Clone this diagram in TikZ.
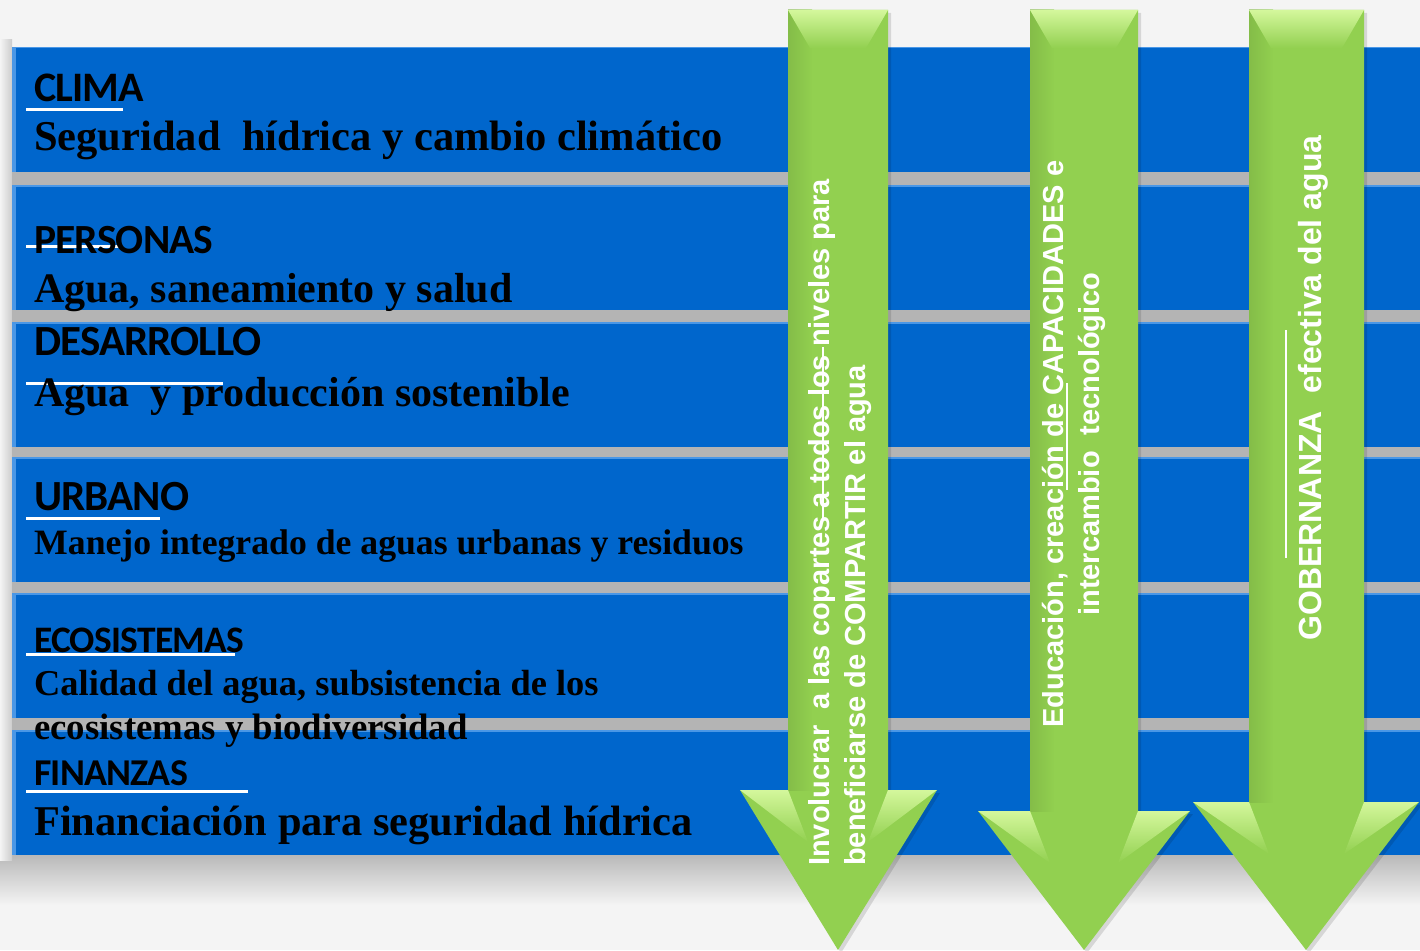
\documentclass[tikz,border=0pt]{standalone}
\usepackage{fontspec}
\setmainfont{Liberation Serif}
\newfontfamily\titrefont{Carlito}[LetterSpace=-2]
\newfontfamily\flechefont{Liberation Sans}
\definecolor{bleu}{HTML}{0066CC}
\definecolor{bleuclair}{HTML}{4A97E6}
\definecolor{vert}{HTML}{92D050}
\definecolor{vertclair}{HTML}{D4F79C}
\definecolor{grisbande}{HTML}{B4B4B4}
\definecolor{fond}{HTML}{F4F4F4}
\usetikzlibrary{positioning}
\begin{document}
\begin{tikzpicture}[x=1pt,y=-1pt,
    bande/.style={fill=bleu},
    titre/.style={anchor=base west,inner sep=0pt,font=\titrefont\bfseries\fontsize{#1}{#1}\selectfont},
    soustitre/.style={anchor=base west,inner sep=0pt,font=\bfseries\fontsize{#1}{#1}\selectfont},
    souligne/.style={white,line width=3pt},
    trait/.style={white,line width=1.5pt},
    texteflech/.style={rotate=90,text=white,inner sep=0pt,font=\flechefont\bfseries\fontsize{#1}{36.5}\selectfont}]
    % Fond et cadre de l'image
    \fill[fond] (0,0) rectangle (1420,950);
    \useasboundingbox (0,0) rectangle (1420,950);

    % Ombres autour des bandes
    \shade[top color=gray!55,bottom color=fond] (0,855) rectangle (1420,905);
    \shade[left color=fond,right color=gray!40] (0,40) rectangle (12,860);
    \fill[grisbande] (12,47) rectangle (1420,855);

    % Les six bandes bleues
    \foreach \h in {47,185,322,457,593,730} {
        \fill[bleu] (12,\h) rectangle (1420,\h+125);
        \fill[bleuclair] (12,\h) rectangle (16,\h+125);
        \fill[bleuclair] (12,\h) rectangle (1420,\h+1.5);
    }

    % Soulignements des titres
    \draw[souligne] (26,109) -- (123,109);
    \draw[souligne] (26,246) -- (120,246);
    \draw[souligne] (26,383) -- (223,383);
    \draw[souligne] (26,518) -- (160,518);
    \draw[souligne] (26,654) -- (235,654);
    \draw[souligne] (26,791) -- (248,791);

    % Titres et sous-titres
    \node[titre=42] (clima) at (34,101) {CLIMA};
    \node[soustitre=42.5] (clima2) at (34,150) {Seguridad\ \ hídrica y cambio climático};
    \node[titre=41.5] (personas) at (34,253) {PERSONAS};
    \node[soustitre=42] (personas2) at (34,302) {Agua, saneamiento y salud};
    \node[titre=43] (desarrollo) at (34,355) {DESARROLLO};
    \node[soustitre=42] (desarrollo2) at (34,406) {Agua\ \ y producción sostenible};
    \node[titre=43] (urbano) at (34,510) {URBANO};
    \node[soustitre=35.7] (urbano2) at (34,554) {Manejo integrado de aguas urbanas y residuos};
    \node[titre=37.4] (eco) at (34,652) {ECOSISTEMAS};
    \node[soustitre=36.4] (eco2) at (34,695) {Calidad del agua, subsistencia de los};
    \node[soustitre=36.8] (eco3) at (34,739) {ecosistemas y biodiversidad};
    \node[titre=37.9] (finanzas) at (34,785) {FINANZAS};
    \node[soustitre=42.4] (finanzas2) at (34,835) {Financiación para seguridad hídrica};

    % Les trois flèches vertes
    \foreach \xl/\xr/\yh/\wl/\wr/\pt in {788/888/790/740/937/838,
        1030/1138/811/978/1190/1084, 1249/1364/802/1193/1419/1306} {
        \fill[black,opacity=0.12] (\xl+3,13) -- (\xr+3,13) -- (\xr+3,\yh+3) -- (\wr+3,\yh+3)
            -- (\pt+3,953) -- (\wl+3,\yh+3) -- (\xl+3,\yh+3) -- cycle;
        \fill[vert] (\xl,10) -- (\xr,10) -- (\xr,\yh) -- (\wr,\yh) -- (\pt,950)
            -- (\wl,\yh) -- (\xl,\yh) -- cycle;
        \shade[left color=vert!82!black,right color=vert,opacity=0.5] (\xl,10) rectangle (\xl+24,\yh);
        \shade[top color=vertclair,bottom color=vert] (\xl,10) -- (\xr,10) -- (\xr-22,48) -- (\xl+22,48) -- cycle;
        \shade[top color=vertclair,bottom color=vert] (\wl,\yh) -- (\xl,\yh) -- (\xl+20,\yh+52) -- cycle;
        \shade[top color=vertclair,bottom color=vert] (\xr,\yh) -- (\wr,\yh) -- (\xr-20,\yh+52) -- cycle;
    }

    % Textes des flèches
    \node[texteflech=29,align=left,anchor=west] (coparte) at (840,866)
        {Involucrar\ \ a las copartes a todos los niveles para\\beneficiarse de COMPARTIR el agua};
    \node[texteflech=29,align=center] (educacion) at (1074,444)
        {Educación, creación de CAPACIDADES e\\intercambio\ \ tecnológico};
    \node[texteflech=32] (gobernanza) at (1313,388) {GOBERNANZA\ \ efectiva del agua};
    \draw[trait] (823,347) -- (823,520);
    \draw[trait] (1067,383) -- (1067,490);
    \draw[trait] (1286,330) -- (1286,558);
\end{tikzpicture}
\end{document}
